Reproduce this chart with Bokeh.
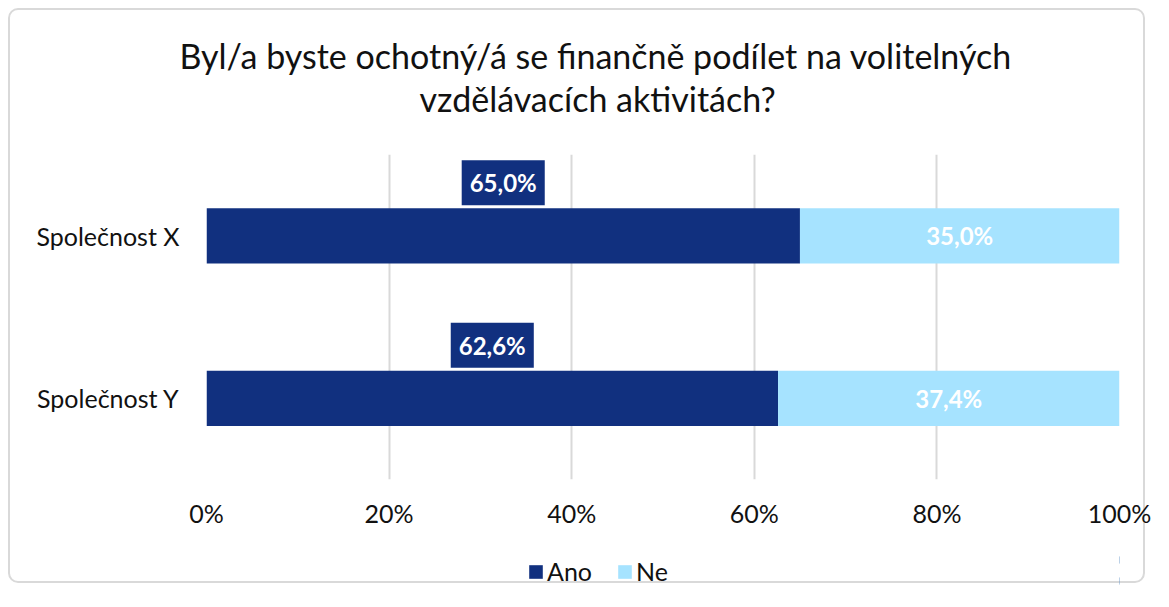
from bokeh.plotting import figure
from bokeh.layouts import column
from bokeh.models import (ColumnDataSource, FactorRange, Range1d, Legend, Title,
                          LegendItem, PrintfTickFormatter, FixedTicker)
from bokeh.core.properties import value
from bokeh.embed import file_html
from bokeh.resources import INLINE

# ---- data ----
categories = ["Společnost X", "Společnost Y"]
ano = [65.0, 62.6]
ne = [35.0, 37.4]
tick_values = [0, 20, 40, 60, 80, 100]
title_lines = ["Byl/a byste ochotný/á se finančně podílet na volitelných",
               "vzdělávacích aktivitách?"]
series_names = ["Ano", "Ne"]

ANO_C = "#11307f"
NE_C = "#a6e3ff"
TXT_C = "#111111"
FONT = "Lato"
W = 1153

def fmt(v):
    return f"{v:.1f}".replace(".", ",") + "%"

src = ColumnDataSource(dict(
    cat=categories,
    ano_end=ano,
    ne_start=ano,
    ne_end=[a + n for a, n in zip(ano, ne)],
    zero=[0] * len(ano),
    ano_mid=[a / 2 for a in ano],
    ne_mid=[a + n / 2 for a, n in zip(ano, ne)],
    ano_lbl=[fmt(v) for v in ano],
    ne_lbl=[fmt(v) for v in ne],
))

# ---- main chart ----
p = figure(width=W, height=545, output_backend="svg", toolbar_location=None,
           y_range=FactorRange(factors=list(reversed(categories))),
           x_range=Range1d(0, 100),
           min_border_left=206, min_border_right=34, min_border_top=154,
           min_border_bottom=66)
p.border_fill_alpha = 0

r_ano = p.hbar(y="cat", left="zero", right="ano_end", height=0.34, source=src,
               fill_color=ANO_C, line_color=None)
r_ne = p.hbar(y="cat", left="ne_start", right="ne_end", height=0.34, source=src,
              fill_color=NE_C, line_color=None)

p.text(x="ano_mid", y="cat", text="ano_lbl", source=src, y_offset=-53,
       text_align="center", text_baseline="middle", text_color="white",
       text_font=value(FONT), text_font_style="bold", text_font_size="24px",
       background_fill_color=ANO_C, padding=8)
p.text(x="ne_mid", y="cat", text="ne_lbl", source=src,
       text_align="center", text_baseline="middle", text_color="white",
       text_font=value(FONT), text_font_style="bold", text_font_size="24px")

# spacer between plot area and title, then the two title lines
p.add_layout(Title(text=" ", text_font_size="1px", standoff=33), "above")
p.add_layout(Title(text=title_lines[1], align="left", offset=213, text_font=FONT,
                   text_font_size="34px", text_font_style="normal",
                   text_color=TXT_C, standoff=0), "above")
p.add_layout(Title(text=title_lines[0], align="left", offset=-27, text_font=FONT,
                   text_font_size="34px", text_font_style="normal",
                   text_color=TXT_C, standoff=0), "above")

p.xaxis.ticker = FixedTicker(ticks=tick_values)
p.xaxis.formatter = PrintfTickFormatter(format="%d%%")
for ax in (p.xaxis, p.yaxis):
    ax.axis_line_color = None
    ax.major_tick_line_color = None
    ax.minor_tick_line_color = None
    ax.major_label_text_font = FONT
    ax.major_label_text_font_size = "25px"
    ax.major_label_text_color = TXT_C
p.xaxis.major_label_standoff = 12
p.yaxis.major_label_standoff = 21

p.xgrid.ticker = FixedTicker(ticks=tick_values)
p.xgrid.grid_line_color = "#d9d9d9"
p.xgrid.grid_line_width = 2
p.ygrid.grid_line_color = None
p.outline_line_color = None

# ---- legend strip ----
lg = figure(width=W, height=46, output_backend="svg", toolbar_location=None,
            x_axis_location=None, y_axis_location=None,
            min_border_left=206, min_border_right=34, min_border_top=4, min_border_bottom=0,
            x_range=Range1d(-200, -100), y_range=FactorRange(factors=categories))
lg.outline_line_color = None
lg.xgrid.grid_line_color = None
lg.ygrid.grid_line_color = None
lg.border_fill_alpha = 0
lg.background_fill_alpha = 0
l_ano = lg.hbar(y="cat", left="zero", right="ano_end", height=0.34, source=src,
                fill_color=ANO_C, line_color=None)
l_ne = lg.hbar(y="cat", left="ne_start", right="ne_end", height=0.34, source=src,
               fill_color=NE_C, line_color=None)
legend = Legend(items=[LegendItem(label=series_names[0], renderers=[l_ano], index=0),
                       LegendItem(label=series_names[1], renderers=[l_ne], index=0)],
                orientation="horizontal", location=(321, 5),
                label_text_font=FONT, label_text_font_size="25px",
                label_text_color=TXT_C, glyph_width=17, glyph_height=17,
                label_standoff=3, spacing=24, border_line_color=None,
                background_fill_alpha=0, margin=0, padding=0)
lg.add_layout(legend, "center")

layout = column(p, lg, spacing=0,
                styles={"outline": "2px solid #d9d9d9", "outline-offset": "-10px",
                        "border-radius": "18px"})

open("out.html", "w").write(file_html(layout, INLINE))
